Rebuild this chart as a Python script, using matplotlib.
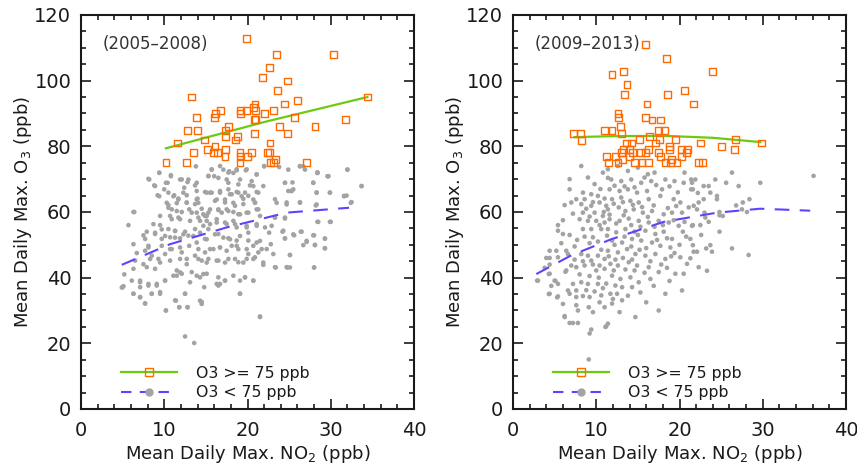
import matplotlib
matplotlib.use("Agg")
import matplotlib.pyplot as plt
from matplotlib.lines import Line2D
from matplotlib.ticker import MultipleLocator

# ---------------- data ----------------
left_title = "(2005–2008)"
right_title = "(2009–2013)"
legend_labels = ["O3 >= 75 ppb", "O3 < 75 ppb"]
xlabel = "Mean Daily Max. NO$_2$ (ppb)"
ylabel = "Mean Daily Max. O$_3$ (ppb)"

left_high = [(19.9, 112.9), (23.5, 107.9), (30.3, 107.9), (22.6, 103.9), (21.8, 100.9), (24.8, 99.9),
             (13.3, 95), (23.6, 97), (34.4, 95), (26.0, 93.9), (24.4, 92.9), (20.9, 92.9),
             (13.9, 88.9), (16.0, 88.9), (16.2, 90), (16.8, 90.9), (19.2, 90.9), (19.2, 89.9),
             (19.9, 90.9), (20.7, 91.9), (21.0, 90.9), (22.0, 90), (23.1, 90.9), (20.8, 88.1),
             (21.0, 88.1), (25.6, 88.9), (31.8, 88.1), (12.8, 84.9), (14.0, 84.9), (17.4, 84.9),
             (17.7, 86), (20.8, 83.9), (23.8, 86), (24.8, 83.9), (28.1, 86), (14.8, 81.9),
             (17.4, 83), (18.6, 81.9), (18.8, 82.9), (11.6, 81), (22.7, 81), (13.5, 78),
             (15.2, 79), (15.9, 78), (16.1, 79.9), (16.4, 78), (17.4, 79), (17.3, 77),
             (19.1, 78), (19.1, 77), (20.0, 77), (20.5, 78), (22.4, 78), (22.6, 78),
             (10.2, 75), (12.7, 75), (19.1, 75), (22.8, 75), (23.1, 75), (23.4, 76), (27.1, 75)]

left_low = [(13.8, 73.9), (22, 73.9), (23.8, 73.7), (24.9, 72.9), (26.3, 73.9), (32, 72.9),
            (9.4, 71.9), (10.8, 70.9), (15.7, 72.9), (17.1, 72.9), (17.8, 72.4), (18.3, 71.9),
            (18.7, 72.7), (19.8, 72.7), (21.1, 71.4), (28.4, 71.9), (29.7, 70.9), (15.3, 70.9), (16, 70.9),
            (8.2, 69.9), (11.9, 69.9), (12.9, 69.9), (10.4, 68.9), (13.9, 68.9), (17.5, 69.9),
            (19.1, 69.9), (20.5, 69.4), (20.7, 67.9), (24.5, 68.9), (27.9, 68.9), (33.7, 67.9),
            (8.9, 67.9), (10, 66.9), (12.4, 67.4), (13.9, 66.4), (15.1, 65.9), (15.7, 65.9),
            (16.7, 66.4), (17.7, 66.9), (18.7, 66.1), (19.7, 65.9), (21.1, 66.1), (25.3, 66.4),
            (28.3, 65.9), (29.9, 65.9), (9.4, 64.8), (11.1, 64.8), (18.1, 65.4), (19.3, 64.8),
            (10.3, 62.8), (11.7, 63.8), (12.7, 62.8), (13.9, 63.8), (14.1, 62.8), (16.3, 63.8),
            (17.3, 63.8), (18.3, 62.8), (19.5, 64), (20.7, 63.8), (20.9, 62.8), (23.5, 62.8),
            (24.7, 62.3), (26.3, 62.8), (28.3, 62.3), (31.6, 64.8), (32.5, 63),
            (6.4, 60), (10.5, 61.3), (11.5, 60.3), (13, 60.8), (13.9, 59.8), (14.7, 59.3),
            (15.5, 60.8), (16.5, 60.6), (16.9, 59.8), (17.5, 60.8), (18.3, 60), (19.1, 59.3),
            (19.9, 59.8), (21.1, 60.8), (21.5, 58.8), (23.3, 58.3), (24.5, 58.3),
            (9.5, 58.8), (10.9, 57.8), (11.9, 57.8), (13.1, 57.3), (14.3, 57.3), (14.9, 58.8),
            (15.5, 56.3), (16.3, 56.8), (17.5, 56.3), (18.3, 57.3), (18.7, 55.3), (19.9, 55.8),
            (21.1, 56.3), (22.1, 55.3), (22.9, 55.8), (28.4, 57), (30, 57), (5.7, 56), (8.7, 56.3),
            (9.7, 54.7), (11.3, 54.2),
            (7.5, 52.9), (8.9, 53.7), (10.1, 52.7), (11.3, 52.2), (12.3, 53.2), (13.5, 52.7),
            (14.3, 53.7), (15.1, 51.7), (16.1, 53.2), (17.1, 52.2), (17.9, 51.7), (19.1, 52.7),
            (20.1, 53.7), (21.5, 51.2), (22.6, 53.7), (24.2, 54), (25.5, 53.2), (26.4, 54),
            (27.9, 52.9), (29.3, 51.9), (24.5, 51.9), (27.1, 51.2), (22.8, 50.2),
            (6.3, 50.2), (8.1, 49.7), (9.7, 49.7), (10.7, 48.7), (11.9, 49.2), (13, 49.7),
            (14.1, 48.7), (14.9, 47.7), (15.9, 48.7), (16.7, 49.2), (17.5, 48.2), (18.7, 49.7),
            (19.9, 48.7), (20.7, 49.7), (21.7, 48.7), (28.1, 50), (29.3, 49), (25.1, 46.9), (7.7, 48.2),
            (6.5, 45.2), (8.3, 45.7), (9.5, 44.6), (10.7, 45.2), (11.9, 45.7), (12.7, 44.1),
            (14.1, 45.7), (15.1, 44.6), (16.3, 45.2), (17.3, 44.6), (18.5, 45.7), (19.5, 44.6),
            (20.7, 45.7), (21.9, 44.6), (23.4, 43.1), (24.8, 43.1), (28, 43.1), (7.5, 44.1),
            (5.1, 37.4), (6.1, 39.1), (7.1, 38.6), (8.1, 37.6), (9.1, 38.1), (10.1, 39.1),
            (11.1, 40.6), (11.9, 41.6), (13.1, 38.6), (13.9, 40.6), (14.7, 41.1), (16.3, 38.1),
            (17.3, 39.1), (18.3, 40.6), (19.7, 40.1), (20.7, 39.1), (7.1, 37.1),
            (6.3, 35.1), (7.1, 34), (7.7, 32.2), (8.5, 35.1), (9.5, 35.6), (10.2, 30), (11.4, 33),
            (12.5, 35.1), (11.8, 31), (12.8, 31), (14.3, 33), (14.5, 32), (16.5, 37.6), (19.1, 35.1),
            (21.5, 28.2), (12.5, 22.1), (13.6, 20.1), (4.9, 37), (5.2, 41), (31.9, 65), (29.6, 70.9),
            (28.4, 72.1), (26.7, 73.9), (25.4, 69),
            # denser reading, left part
            (9.4, 72), (10.8, 71.2), (8.1, 70.1), (10.2, 68.9), (12.1, 69.9), (12.8, 69.1),
            (13.7, 68.1), (8.8, 68.1), (10.5, 65.9), (9.2, 65.1), (11.2, 65.1), (12.3, 65.9),
            (12.7, 65.1), (11.7, 64.1), (14, 64.1), (14.9, 66.1), (10.5, 62.1), (11.5, 62.7),
            (12.7, 62.9), (13.7, 62.4), (14.5, 61), (10.9, 60.8), (12.1, 60), (13.3, 59.8),
            (6.3, 60), (10.7, 58.8), (11.7, 58.3), (14.1, 58.3), (15.1, 58.8), (9.5, 56),
            (10.5, 54.8), (11.3, 54.3), (12.5, 54), (13.7, 54.8), (14.7, 55.8), (7.9, 54),
            (8.9, 53.3), (9.7, 51.8), (10.7, 52.3), (11.9, 52), (12.9, 52.8), (13.9, 50.7),
            (14.9, 51.8), (7.7, 51.8), (8.1, 49.2), (6.7, 47.5), (8.5, 46.7), (9.3, 45.7),
            (10.1, 47.2), (10.9, 48.7), (12.1, 47.7), (12.7, 45.7), (13.7, 46.7), (14.5, 45.2),
            (7.9, 43.2), (8.9, 42.7), (11.5, 42.2), (12.1, 41.2), (13.3, 41.7), (14.3, 40.1),
            (6.3, 42.7), (7.1, 39.1), (8.1, 38.1), (9.1, 37.6), (10.1, 39.1), (11.5, 40.6),
            (5, 37.1), (6.3, 35.1), (7.1, 34.1), (7.7, 32.1), (8.5, 35.1), (9.5, 35.1),
            (12.5, 35.1), (11.3, 33.1), (11.8, 31), (12.8, 31), (10.2, 30), (14.5, 32.6), (14.8, 37.1),
            # denser reading, middle part
            (15.7, 73), (16.7, 74), (17.7, 72), (18.7, 73), (19.9, 73), (21.1, 71.5), (22, 74),
            (24.5, 68.9), (15.3, 71), (16.5, 70.4), (17.7, 68.9), (18.9, 68.4), (20.3, 68.1),
            (21.9, 67.9), (15.5, 65.9), (16.7, 65.9), (17.9, 65.4), (18.9, 65.9), (20.1, 64.9),
            (21.3, 65.9), (23.3, 63.9), (24.9, 66.4), (16.1, 63.4), (17.3, 62.9), (18.5, 61.9),
            (19.5, 62.4), (20.9, 62.9), (24.7, 62.9), (15.3, 59.8), (16.5, 60.8), (17.7, 60.3),
            (18.9, 59.3), (20.1, 59.8), (21.3, 60.8), (15.1, 57.3), (16.3, 57.8), (17.3, 56.8),
            (18.5, 56.3), (19.9, 55.3), (21.1, 55.8), (23.3, 58.3), (24.5, 58), (15.3, 54.8),
            (16.5, 53.3), (17.7, 52), (18.7, 51.3), (20.1, 51.3), (21.1, 50.7), (24.3, 54.3),
            (24.5, 52), (15.5, 48.7), (16.7, 49.2), (18.1, 49.7), (18.9, 48.7), (20.1, 47.2),
            (21.3, 47.7), (22.3, 48.7), (23.1, 47.2), (15.3, 45.7), (16.5, 45.2), (17.7, 45.7),
            (18.9, 44.7), (19.9, 45.7), (20.9, 46.2), (21.9, 43.9), (23.3, 43.2), (24.7, 43.2),
            (15.1, 41.2), (16.5, 40.1), (16.7, 38.1), (17.3, 39.1), (19.1, 39.1), (19.7, 40.1),
            (20.7, 39.1), (19.1, 35.1), (21.5, 28),
            # denser reading, right part
            (26.3, 74), (26.9, 72.9), (28.4, 71.9), (29.7, 70.9), (32, 72.9), (27.9, 68.9),
            (25.3, 66.4), (25.5, 66.9), (28.3, 65.9), (29.9, 65.9), (31.6, 64.9), (33.7, 67.9),
            (32.4, 62.8), (26.3, 63), (28.2, 62), (28.5, 57), (29.9, 57), (25.6, 52.9), (26.5, 54),
            (27.1, 50.9), (26.7, 49.9), (28, 52.9), (28.1, 49.9), (29.3, 51.9), (29.3, 48.9),
            (25.1, 46.9), (28, 43.1), (25.1, 43.1)]

right_high = [(15.9, 110.9), (18.4, 106.8), (24.0, 102.7), (11.9, 101.9), (13.3, 102.7), (13.7, 98.9),
              (13.4, 95.9), (18.6, 95.9), (20.6, 97), (16.1, 92.9), (21.7, 92.9), (12.6, 90),
              (12.7, 88.9), (15.9, 88.9), (16.7, 88), (17.7, 88), (12.9, 86), (11.0, 84.9),
              (11.9, 84.9), (17.5, 84.9), (18.2, 84.9), (7.3, 83.8), (8.1, 83.8), (8.2, 81.8),
              (13.0, 83.9), (13.6, 81), (14.2, 81), (15.2, 82), (16.4, 82.9), (17.1, 81),
              (17.6, 82), (19.5, 82), (18.8, 80), (22.5, 81), (25.0, 79.9), (26.7, 82),
              (26.6, 79), (29.8, 81), (11.2, 77), (12.3, 77), (13.0, 78), (13.3, 79),
              (14.0, 79), (14.4, 78), (13.2, 76), (14.0, 77), (15.3, 78), (15.9, 78),
              (16.3, 79), (17.5, 78), (17.7, 77), (18.8, 79), (19.0, 76), (20.2, 79),
              (20.2, 77), (20.8, 78), (21.0, 79), (11.5, 75), (12.6, 75), (14.6, 75),
              (15.5, 75), (16.3, 75), (18.3, 75), (18.9, 75), (19.7, 75), (22.3, 75), (22.8, 75)]

right_low = [(8.2, 74), (10.8, 72), (11.4, 70.4), (6.8, 70), (6.8, 66.9), (8.4, 65.9), (9.4, 65.4),
             (10.2, 64.9), (11, 64.1), (7.6, 63.9), (8.6, 63.9), (6.2, 62.1), (7, 62.9), (8.2, 62.4),
             (9.4, 61.9), (10.4, 62.9), (11.2, 61.9), (8.4, 59.8), (9.8, 59.8), (10.8, 58.8),
             (8, 57.8), (9, 57.3), (10, 57.3), (11, 56.8), (5.4, 56), (5.4, 54.3), (6, 53.3),
             (6.8, 53), (8.4, 54.8), (9.4, 54.8), (10.6, 54.8), (9.6, 52.3), (7.4, 49.5),
             (4.4, 48.2), (5.2, 48.2), (6.4, 48.2), (4.4, 46), (5.4, 46.2), (6.6, 47.2),
             (8.2, 47.2), (9, 46.7), (10.2, 46.7), (11, 45.7), (7, 43.7), (7.6, 43.2), (8.6, 43.7),
             (9.4, 45.2), (10.4, 43.7), (6.4, 42.2), (10, 42.2), (11, 42.7), (4.4, 41.2), (5, 39.1),
             (3, 39.1), (5.4, 38.1), (7.2, 38.1), (8.2, 38.6), (9, 38.1), (10.2, 38.1), (6.6, 36.1),
             (6.8, 35.1), (7.6, 36.1), (4.4, 35.1), (5.4, 34.3), (7.6, 34.1), (8.4, 34.4),
             (9.2, 34.1), (10.6, 34.6), (7.6, 31.6), (7.8, 30), (9.1, 31), (11, 31), (6.2, 28.3),
             (7.2, 26.2), (7.8, 26.2), (9.4, 24.2), (9.2, 23), (11.2, 25.2), (9.1, 15.1),
             (2.9, 39.1), (4.3, 41.1), (4.3, 35), (5.3, 34), (6.2, 28), (5.1, 39), (6.3, 41.8),
             (4.0, 46), (4.4, 44), (6.8, 26.2),
             (11.4, 73), (12.6, 74), (13.8, 72.5), (15, 73.5), (16.2, 71.5), (17, 72), (20.6, 72),
             (11.8, 69.9), (13, 69.4), (14.2, 69.9), (15.4, 68.9), (16.6, 69.4), (18.3, 69.9),
             (19.4, 69.4), (20.5, 68.9), (21.4, 69.9), (11.6, 66.9), (12.8, 66.4), (13.8, 66.9),
             (14.9, 65.9), (16.1, 66.4), (17.9, 66.9), (21.4, 66.9), (11.9, 63.9), (13, 64.4),
             (14.1, 63.4), (15.1, 62.9), (16.3, 63.9), (17.7, 64.9), (19.3, 63.9), (20.1, 62.9),
             (21.1, 61.4), (11.4, 60.8), (12.7, 61.4), (13.5, 60.3), (14.5, 60.8), (15.6, 59.8),
             (16.7, 60.3), (18.1, 59.3), (19.1, 59.8), (20.3, 59.8), (11.6, 57.8), (12.8, 57.3),
             (13.9, 58), (15.1, 57.3), (16.3, 56.8), (17.5, 57.3), (18.7, 56.8), (19.9, 55.8),
             (21.5, 55.8), (11.4, 54.8), (12.4, 53.8), (13.5, 54.8), (14.6, 54), (15.9, 54.3),
             (17.1, 53.3), (18.1, 54), (19.1, 51.8), (11.9, 51.3), (13.1, 50.7), (14.3, 51.8),
             (15.4, 51.3), (16.7, 50.7), (17.7, 49.7), (18.9, 49.2), (11.4, 48.2), (12.6, 47.7),
             (13.7, 48.7), (14.7, 47.2), (15.9, 46.7), (17.1, 47.2), (18.3, 45.7), (20.1, 46.2),
             (20.9, 44.2), (11.7, 44.2), (12.6, 43.7), (13.9, 44.7), (14.9, 43.7), (16.3, 43.2),
             (17.5, 41.7), (19.5, 41.2), (20.5, 41.2), (11.9, 40.6), (12.9, 39.6), (14.1, 40.1),
             (15.1, 38.6), (16.5, 39.6), (12.3, 37.6), (13.1, 37.1), (14.3, 37.1), (11.7, 35.1),
             (12.5, 35.1), (18.3, 35.1), (20.3, 36.1), (11.9, 32.1), (13.1, 33.1), (17.5, 30),
             (14.7, 28), (11.4, 26), (11.1, 25),
             (26.3, 72), (21.9, 69.9), (21.5, 68.9), (24.3, 69.9), (25.6, 68.9), (29.7, 68.9),
             (36.1, 71), (22.9, 67.9), (23.5, 67.9), (27.1, 67.9), (21.6, 66.9), (23.7, 65.9),
             (24.5, 64.9), (24.5, 63.9), (22.9, 63.9), (22.3, 62.9), (21.7, 61.9), (22.1, 60.8),
             (27.6, 62.9), (28.4, 63.9), (27.5, 60.8), (28.1, 60), (24.8, 60), (24.8, 59),
             (23.1, 58.3), (23.5, 57), (21.6, 56), (22.5, 56), (24.8, 54), (21.3, 51.8),
             (21.6, 49.9), (23.2, 48.9), (23.7, 49.9), (23.9, 47.9), (26.3, 48.9), (21.7, 47.9),
             (22.1, 47.9), (28.3, 46.9), (21.3, 45.9), (22.3, 43.2), (23.3, 42.1),
             # denser core of the 2009-2013 cloud
             (9.0, 70.5), (9.8, 68.5), (10.5, 67), (12.2, 68), (13.4, 67.8), (14.6, 67.5),
             (15.8, 70.5), (17.2, 68.2), (18.8, 67.8), (19.8, 66), (8.8, 61), (9.6, 63),
             (10.9, 60), (12.1, 62.5), (13.2, 63), (14.4, 62.2), (15.5, 61.5), (16.9, 62),
             (18.6, 61.2), (19.6, 61.8), (9.2, 58.6), (10.4, 56), (11.6, 59.2), (12.4, 56.5),
             (13.3, 59), (14.2, 56), (15.3, 55.5), (16.2, 58.5), (17.0, 55.5), (18.0, 56),
             (19.3, 57.5), (20.6, 57), (7.7, 51.5), (8.6, 52.5), (9.2, 50.5), (10.2, 51),
             (11.3, 52.8), (12.2, 50), (13.4, 52.5), (14.2, 49.5), (15.0, 53), (16.0, 49),
             (17.3, 51.5), (18.5, 52), (20.0, 50), (7.4, 45.5), (8.4, 45), (9.6, 44),
             (10.6, 48.5), (11.5, 46.5), (12.3, 45.5), (13.2, 46), (14.3, 45.5), (15.2, 48.5),
             (16.5, 45), (17.8, 44), (19.0, 46.5), (8.0, 41), (9.2, 40.5), (10.3, 40),
             (11.2, 38.2), (12.1, 42.2), (13.5, 42.5), (14.6, 42.2), (15.8, 41.5), (16.9, 37.5),
             (18.8, 39), (8.8, 36.2), (9.8, 35.8), (10.8, 36.8), (12.0, 33.5), (13.8, 34.5),
             (15.3, 35.5), (16.0, 32.5), (9.6, 29.5), (10.4, 32.5), (12.8, 29.5), (18.5, 43),
             (19.4, 47.5), (20.8, 52.5), (20.4, 54), (22.6, 53), (23, 59.8), (22.2, 65.8),
             (25.2, 58.8), (26.8, 62), (6.0, 57.5), (7.2, 59.5), (5.8, 50.5), (3.8, 43),
             (4.6, 37.5), (6.0, 32)]

left_fit_hi_x = [10.2, 22.0, 34.4]
left_fit_hi_y = [79.4, 87.4, 95.0]
left_fit_lo_x = [4.9, 10.7, 17.5, 24.7, 32.2]
left_fit_lo_y = [43.9, 50.2, 55.3, 59.8, 61.3]
right_fit_hi_x = [7.4, 12.0, 18.1, 24.0, 29.7]
right_fit_hi_y = [82.8, 83.1, 83.2, 82.6, 81.3]
right_fit_lo_x = [2.8, 7.0, 11.8, 18.1, 24.5, 29.7, 35.7]
right_fit_lo_y = [41.1, 46.8, 51.7, 57.0, 59.8, 61.0, 60.4]

# ---------------- styling ----------------
ORANGE = "#FF6A00"
GREEN = "#6CCB10"
BLUE = "#5A45FF"
GREY = "#A3A3A3"
TXT = "#1a1a1a"

plt.rcParams["font.family"] = ["DejaVu Sans"]
plt.rcParams["mathtext.fontset"] = "dejavusans"

fig = plt.figure(figsize=(8.57, 4.67), dpi=100)
axL = fig.add_axes([0.0945, 0.1242, 0.3886, 0.8437])
axR = fig.add_axes([0.5986, 0.1242, 0.3886, 0.8437])

panels = [
    (axL, left_high, left_low, left_fit_hi_x, left_fit_hi_y, left_fit_lo_x, left_fit_lo_y, left_title),
    (axR, right_high, right_low, right_fit_hi_x, right_fit_hi_y, right_fit_lo_x, right_fit_lo_y, right_title),
]

for ax, hi, lo, fhx, fhy, flx, fly, title in panels:
    lx, ly = zip(*lo)
    hx, hy = zip(*hi)
    ax.scatter(lx, ly, s=11, color=GREY, edgecolors="none", zorder=2)
    ax.plot(flx, fly, color=BLUE, lw=1.5, dashes=(7, 5), zorder=3)
    ax.plot(fhx, fhy, color=GREEN, lw=1.6, zorder=3)
    ax.scatter(hx, hy, s=24, marker="s", facecolors="none", edgecolors=ORANGE,
               linewidths=1.0, zorder=4)

    ax.set_xlim(0, 40)
    ax.set_ylim(0, 120)
    ax.xaxis.set_major_locator(MultipleLocator(10))
    ax.xaxis.set_minor_locator(MultipleLocator(2))
    ax.yaxis.set_major_locator(MultipleLocator(20))
    ax.yaxis.set_minor_locator(MultipleLocator(5))
    ax.tick_params(which="both", direction="in", top=True, right=True, colors=TXT,
                   labelsize=14, width=1.2)
    ax.tick_params(which="major", length=7)
    ax.tick_params(axis="x", which="major", pad=9)
    ax.tick_params(axis="y", which="major", pad=7)
    ax.tick_params(which="minor", length=3.5)
    for sp in ax.spines.values():
        sp.set_linewidth(1.5)
        sp.set_color(TXT)
    ax.set_xlabel(xlabel, fontsize=13, color=TXT, labelpad=2)
    ax.set_ylabel(ylabel, fontsize=13, color=TXT, labelpad=0)
    ax.text(2.6, 111.3, title, fontsize=12, color="#333333", ha="left", va="center")

    handles = [
        Line2D([0], [0], color=GREEN, lw=1.6, marker="s", markersize=6,
               markerfacecolor="none", markeredgecolor=ORANGE, markeredgewidth=1.0),
        Line2D([0], [0], color=BLUE, lw=1.5, dashes=(5, 4), marker="o", markersize=5,
               markerfacecolor=GREY, markeredgecolor=GREY),
    ]
    leg = ax.legend(handles, legend_labels, loc="lower left", bbox_to_anchor=(0.12, 0.022),
                    frameon=False, fontsize=11.3, handlelength=3.6, handletextpad=1.2,
                    labelspacing=0.3, borderpad=0, borderaxespad=0, numpoints=1)
    for t in leg.get_texts():
        t.set_color(TXT)

fig.savefig("out.png", dpi=100)
